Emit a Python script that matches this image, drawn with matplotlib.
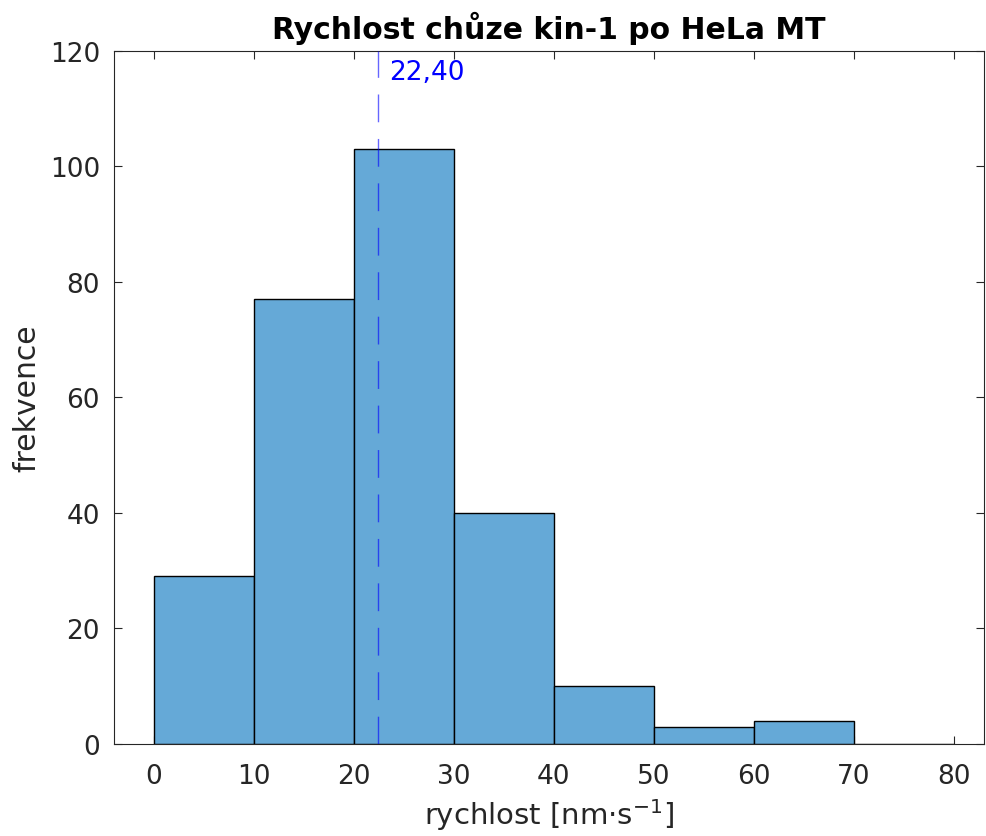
import matplotlib
matplotlib.use('Agg')
import matplotlib.pyplot as plt
import numpy as np

# histogram data
bin_edges = [0, 10, 20, 30, 40, 50, 60, 70, 80]
counts = [29, 77, 103, 40, 10, 3, 4, 0]
mean_speed = 22.40
mean_label = '22,40'

txt = (0.15, 0.15, 0.15)
plt.rcParams['font.family'] = 'DejaVu Sans'
plt.rcParams['font.size'] = 19

fig = plt.figure(figsize=(9.87, 8.37), dpi=100)
ax = fig.add_axes([0.1155, 0.110, 0.881, 0.828])

left = np.array(bin_edges[:-1])
widths = np.diff(bin_edges)
ax.bar(left, counts, width=widths, align='edge', color='#65a9d7',
       edgecolor='black', linewidth=1.0, zorder=2)

ax.axvline(mean_speed, color='blue', alpha=0.6, linewidth=1.0,
           dashes=(20, 12), zorder=3)
ax.text(mean_speed + 1.1, 116.4, mean_label, color='blue', fontsize=19,
        va='center', ha='left')

ax.set_xlim(-4, 83)
ax.set_ylim(0, 120)
ax.set_xticks(np.arange(0, 81, 10))
ax.set_yticks(np.arange(0, 121, 20))
ax.tick_params(direction='in', length=6, width=0.8, top=True, right=True,
               colors=txt, labelsize=19)
ax.tick_params(axis='x', pad=14)
ax.tick_params(axis='y', pad=10)
for s in ax.spines.values():
    s.set_color(txt)
    s.set_linewidth(0.8)

ax.set_xlabel('rychlost [nm·s$^{\\mathrm{-1}}$]', color=txt, fontsize=21, labelpad=5)
ax.set_ylabel('frekvence', color=txt, fontsize=21.5, labelpad=6)
ax.set_title('Rychlost chůze kin-1 po HeLa MT', fontweight='bold',
             fontsize=21.5, pad=9)

fig.savefig('out.png', dpi=100)
